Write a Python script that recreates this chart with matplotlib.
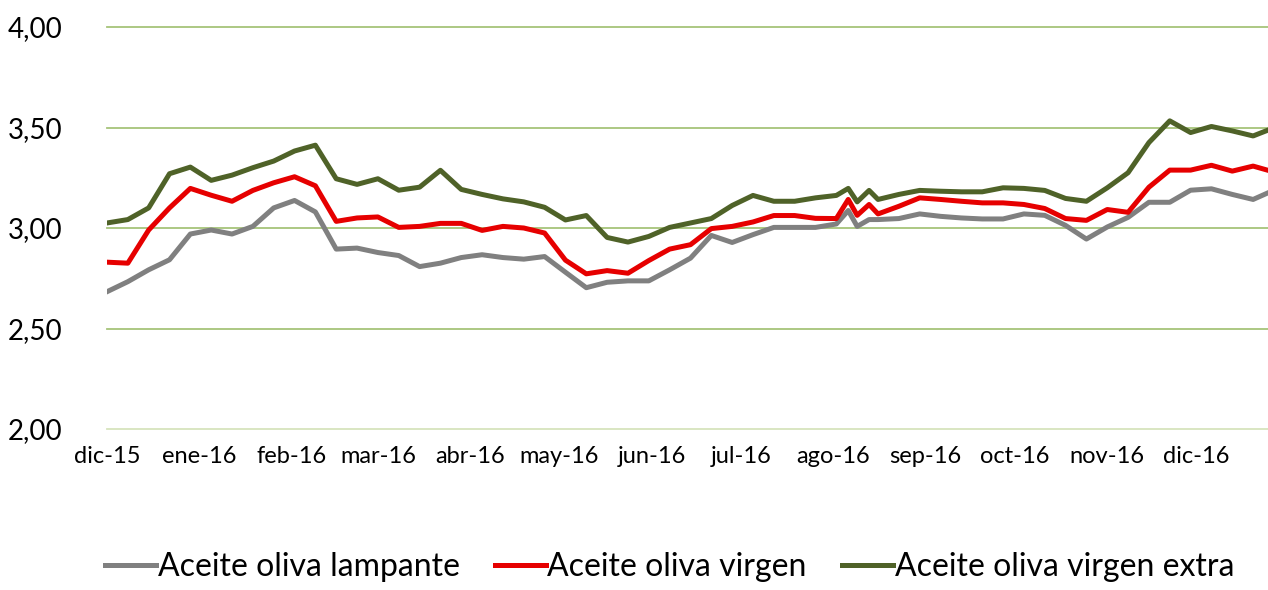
import numpy as np
import pandas as pd
import matplotlib
matplotlib.use('Agg')
import matplotlib.pyplot as plt

plt.rcParams['font.family'] = ['Liberation Sans Narrow', 'Lato', 'DejaVu Sans']

# Fechas (semanales, con dos tomas extra en agosto y el último dato)
fechas_semanales = list(pd.date_range('2015-12-04', periods=56, freq='7D'))
fechas_extra = [pd.Timestamp('2016-08-09'), pd.Timestamp('2016-08-16'), pd.Timestamp('2016-12-28')]
fechas = sorted(fechas_semanales + fechas_extra)

lampante = [2.683, 2.733, 2.792, 2.842, 2.970, 2.990, 2.970, 3.008, 3.100, 3.137,
            3.080, 2.895, 2.900, 2.878, 2.863, 2.808, 2.825, 2.853, 2.867, 2.853,
            2.845, 2.858, 2.780, 2.703, 2.730, 2.737, 2.737, 2.792, 2.850, 2.963,
            2.928, 2.967, 3.003, 3.003, 3.003, 3.020, 3.087, 3.008, 3.042, 3.042,
            3.047, 3.070, 3.058, 3.050, 3.045, 3.045, 3.070, 3.063, 3.013, 2.945,
            3.005, 3.053, 3.128, 3.128, 3.188, 3.195, 3.167, 3.142, 3.175]

virgen = [2.830, 2.825, 2.990, 3.100, 3.197, 3.163, 3.133, 3.187, 3.225, 3.255,
          3.210, 3.033, 3.050, 3.055, 3.003, 3.008, 3.023, 3.023, 2.988, 3.008,
          3.000, 2.975, 2.840, 2.772, 2.788, 2.775, 2.838, 2.895, 2.917, 2.997,
          3.008, 3.030, 3.062, 3.062, 3.048, 3.047, 3.142, 3.063, 3.117, 3.070,
          3.108, 3.150, 3.142, 3.133, 3.125, 3.125, 3.117, 3.097, 3.047, 3.038,
          3.092, 3.078, 3.203, 3.288, 3.288, 3.312, 3.283, 3.308, 3.287]

virgen_extra = [3.025, 3.042, 3.100, 3.270, 3.303, 3.237, 3.263, 3.300, 3.333, 3.383,
                3.412, 3.245, 3.217, 3.245, 3.188, 3.203, 3.287, 3.192, 3.167, 3.145,
                3.130, 3.103, 3.040, 3.062, 2.953, 2.930, 2.958, 3.003, 3.025, 3.047,
                3.112, 3.162, 3.133, 3.133, 3.150, 3.162, 3.197, 3.130, 3.187, 3.142,
                3.167, 3.187, 3.183, 3.180, 3.180, 3.200, 3.197, 3.187, 3.147, 3.133,
                3.200, 3.275, 3.425, 3.533, 3.475, 3.505, 3.483, 3.458, 3.487]

meses = ['dic-15', 'ene-16', 'feb-16', 'mar-16', 'abr-16', 'may-16', 'jun-16',
         'jul-16', 'ago-16', 'sep-16', 'oct-16', 'nov-16', 'dic-16']
yticks = [2.0, 2.5, 3.0, 3.5, 4.0]

fig = plt.figure(figsize=(12.68, 5.90), dpi=100)
ax = fig.add_axes([107 / 1268, 1 - 429 / 590, 1 - 107 / 1268, (429 - 27) / 590])

ax.plot(fechas, lampante, color='#808080', lw=3.6, label='Aceite oliva lampante', solid_joinstyle='round')
ax.plot(fechas, virgen, color='#e60000', lw=3.6, label='Aceite oliva virgen', solid_joinstyle='round')
ax.plot(fechas, virgen_extra, color='#4f6228', lw=3.6, label='Aceite oliva virgen extra', solid_joinstyle='round')

ax.set_xlim(fechas[0], fechas[-1])
ax.set_ylim(2.0, 4.0)

for v in yticks:
    ax.axhline(v, color='#a6c47a' if v > 2.0 else '#d7e4bd', lw=1.3, zorder=0, clip_on=False)

ax.set_yticks(yticks)
ax.set_yticklabels([f'{v:.2f}'.replace('.', ',') for v in yticks], fontsize=20)
pos_meses = pd.date_range('2015-12-04', periods=13, freq=pd.DateOffset(months=1))
ax.set_xticks(pos_meses)
ax.set_xticklabels(meses, fontsize=17)
ax.tick_params(axis='both', length=0)
ax.tick_params(axis='y', pad=32)
ax.tick_params(axis='x', pad=12)
for s in ax.spines.values():
    s.set_visible(False)

leg = fig.legend(loc='lower center', bbox_to_anchor=(0.528, -0.035), ncol=3, frameon=False,
                 fontsize=23, handlelength=1.6, handletextpad=0.05, columnspacing=1.1)

fig.savefig('out.png', dpi=100)
